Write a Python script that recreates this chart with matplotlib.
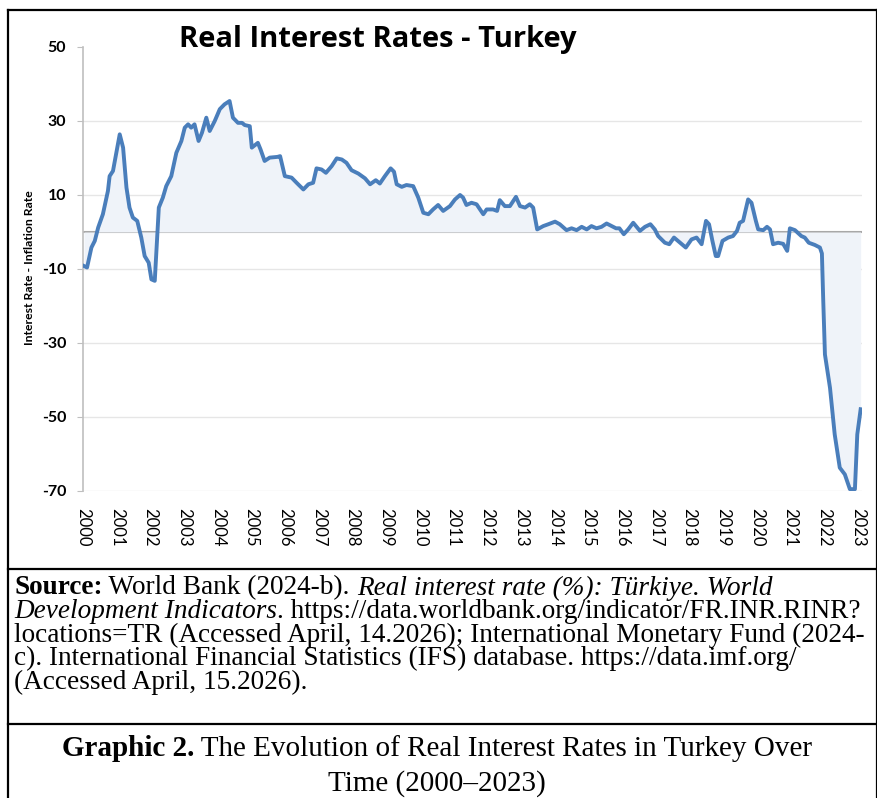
import matplotlib
matplotlib.use('Agg')
import matplotlib.pyplot as plt
from matplotlib.lines import Line2D

# Real interest rate (%).
years = [2000.03, 2000.12, 2000.25, 2000.35, 2000.45, 2000.59, 2000.74, 2000.79, 2000.89,
         2001.09, 2001.19, 2001.29, 2001.38, 2001.48, 2001.61, 2001.73, 2001.83, 2001.95,
         2002.03, 2002.13, 2002.25, 2002.37, 2002.47, 2002.62, 2002.77, 2002.92,
         2003.02, 2003.12, 2003.21, 2003.31, 2003.43, 2003.53, 2003.66, 2003.76, 2003.91,
         2004.06, 2004.20, 2004.35, 2004.45, 2004.60, 2004.72, 2004.80, 2004.95,
         2005.01, 2005.19, 2005.27, 2005.39, 2005.54, 2005.77, 2005.85, 2005.99,
         2006.19, 2006.34, 2006.54, 2006.69, 2006.83, 2006.93,
         2007.08, 2007.21, 2007.38, 2007.53, 2007.68, 2007.82, 2007.97,
         2008.17, 2008.37, 2008.52, 2008.69, 2008.81, 2008.96,
         2009.13, 2009.23, 2009.31, 2009.46, 2009.60, 2009.80, 2009.95,
         2010.10, 2010.25, 2010.39, 2010.54, 2010.69, 2010.89,
         2011.04, 2011.19, 2011.28, 2011.38, 2011.53, 2011.68, 2011.88, 2011.98,
         2012.17, 2012.29, 2012.37, 2012.52, 2012.67, 2012.85, 2012.97,
         2013.12, 2013.26, 2013.36, 2013.48, 2013.66, 2013.81,
         2014.01, 2014.15, 2014.35, 2014.50, 2014.65, 2014.80, 2014.95,
         2015.09, 2015.24, 2015.39, 2015.54, 2015.69, 2015.82, 2015.92,
         2016.05, 2016.18, 2016.33, 2016.53, 2016.68, 2016.84, 2016.97,
         2017.07, 2017.27, 2017.40, 2017.54, 2017.72, 2017.89,
         2018.06, 2018.21, 2018.36, 2018.49, 2018.58, 2018.68, 2018.78, 2018.85, 2018.98,
         2019.15, 2019.29, 2019.41, 2019.49, 2019.59, 2019.74, 2019.84, 2019.97,
         2020.04, 2020.19, 2020.30, 2020.39, 2020.48, 2020.63, 2020.78, 2020.90, 2020.98,
         2021.13, 2021.32, 2021.42, 2021.54, 2021.72, 2021.87, 2021.93, 2021.97,
         2022.02, 2022.17, 2022.31, 2022.46, 2022.61, 2022.76, 2022.91, 2022.98, 2023.08]
rates = [-9.2, -9.6, -4.2, -2.4, 1.2, 4.8, 11.1, 15.1, 16.5,
         26.4, 22.8, 12.0, 6.6, 3.9, 3.0, -1.5, -6.5, -8.3,
         -12.8, -13.2, 6.6, 9.3, 12.4, 15.1, 21.4, 24.6,
         28.2, 29.1, 28.2, 29.1, 24.6, 26.8, 30.9, 27.3, 30.0,
         33.2, 34.5, 35.4, 30.9, 29.5, 29.5, 28.9, 28.6,
         22.8, 24.1, 22.3, 19.2, 20.1, 20.3, 20.5, 15.1,
         14.7, 13.3, 11.5, 12.9, 13.3, 17.2,
         16.9, 16.0, 17.8, 19.9, 19.6, 18.7, 16.7,
         15.8, 14.5, 12.9, 14.0, 13.1, 15.1,
         17.2, 16.3, 12.9, 12.2, 12.7, 12.4, 9.3,
         5.2, 4.8, 6.1, 7.3, 5.7, 7.0,
         8.8, 10.0, 9.3, 7.3, 7.9, 7.5, 4.8, 6.1,
         6.1, 5.7, 8.6, 7.0, 7.0, 9.5, 7.0,
         6.6, 7.5, 6.6, 0.7, 1.6, 2.1,
         2.8, 2.1, 0.5, 1.0, 0.5, 1.4, 0.7,
         1.6, 1.0, 1.4, 2.3, 1.6, 1.0, 1.0,
         -0.6, 0.7, 2.5, 0.3, 1.4, 2.1, 0.7,
         -1.1, -2.9, -3.3, -1.5, -2.9, -4.2,
         -2.0, -1.5, -3.3, 3.0, 2.1, -2.4, -6.5, -6.5, -2.4,
         -1.5, -1.1, 0.3, 2.5, 3.0, 8.8, 7.9, 3.0,
         0.7, 0.5, 1.4, 0.7, -3.3, -2.9, -3.2, -5.1, 1.0,
         0.5, -1.1, -1.5, -2.9, -3.5, -4.2, -5.8, -18.6,
         -33.1, -42.1, -54.7, -63.7, -65.5, -69.5, -69.5, -54.7, -47.9]

year_ticks = list(range(2000, 2024))
rate_ticks = [50, 30, 10, -10, -30, -50, -70]

W, H = 878, 798
fig = plt.figure(figsize=(W / 100, H / 100), dpi=100)
ax = fig.add_axes([83 / W, 1 - 491 / H, (862 - 83) / W, (491 - 47) / H])

for v in rate_ticks[1:]:
    ax.axhline(v, color='#e6e6e6', lw=1, zorder=0)
ax.axhline(0, color='#a8a8a8', lw=1.5, zorder=1)

ax.fill_between(years, rates, 0, color='#eff3f9', lw=0, zorder=1)
ax.plot(years, rates, color='#4a7ebb', lw=2.8, zorder=3, solid_joinstyle='round')

ax.set_xlim(2000, 2023.12)
ax.set_ylim(-70, 50)
ax.set_yticks(rate_ticks)
ax.set_yticklabels([str(v) for v in rate_ticks], fontfamily='Lato', fontweight='bold', fontsize=11.5)
ax.set_xticks(year_ticks)
ax.set_xticklabels([str(y) for y in year_ticks], rotation=-90, fontfamily='Lato', fontsize=12)
ax.tick_params(axis='x', length=0, pad=12)
ax.tick_params(axis='y', length=4, color='#bfbfbf', pad=8)
for s in ['top', 'right', 'bottom']:
    ax.spines[s].set_visible(False)
ax.spines['left'].set_color('#bfbfbf')
ax.spines['left'].set_linewidth(1.2)

fig.text(378 / W, 1 - 40 / H, 'Real Interest Rates - Turkey', ha='center', va='center',
         fontfamily='Open Sans', fontweight='bold', fontsize=21)
fig.text(30 / W, 1 - 268 / H, 'Interest Rate - Inflation Rate', rotation=90, ha='center',
         va='center', fontfamily='Lato', fontweight='bold', fontsize=8.8)

# Frame lines
def hline(y, x0=8, x1=877):
    fig.add_artist(Line2D([x0 / W, x1 / W], [1 - y / H, 1 - y / H], color='black', lw=1.6))

def vline(x, y0=10, y1=798):
    fig.add_artist(Line2D([x / W, x / W], [1 - y0 / H, 1 - y1 / H], color='black', lw=1.6))

hline(10)
hline(569)
hline(724)
vline(8)
vline(877)

# Source note, drawn piece by piece so bold / italic parts can be mixed
renderer = fig.canvas.get_renderer()
serif = 'Liberation Serif'
src_size = 19.6

def rich_line(pieces, x, y):
    for text, weight, style in pieces:
        t = fig.text(x / W, 1 - y / H, text, ha='left', va='center', fontfamily=serif,
                     fontsize=src_size, fontweight=weight, fontstyle=style)
        x += t.get_window_extent(renderer).width

lines = [
    [('Source:', 'bold', 'normal'), (' World Bank (2024-b). ', 'normal', 'normal'),
     ('Real interest rate (%): Türkiye. World', 'normal', 'italic')],
    [('Development Indicators', 'normal', 'italic'),
     ('. https://data.worldbank.org/indicator/FR.INR.RINR?', 'normal', 'normal')],
    [('locations=TR (Accessed April, 14.2026); International Monetary Fund (2024-', 'normal', 'normal')],
    [('c). International Financial Statistics (IFS) database. https://data.imf.org/', 'normal', 'normal')],
    [('(Accessed April, 15.2026).', 'normal', 'normal')],
]
for i, pieces in enumerate(lines):
    rich_line(pieces, 14, 588 + i * 23.5)

# Caption
cap_size = 21
t1 = fig.text(0, 0, 'Graphic 2.', fontfamily=serif, fontweight='bold', fontsize=cap_size)
t2 = fig.text(0, 0, ' The Evolution of Real Interest Rates in Turkey Over', fontfamily=serif,
              fontsize=cap_size)
w1 = t1.get_window_extent(renderer).width
w2 = t2.get_window_extent(renderer).width
x0 = 437 - (w1 + w2) / 2
t1.set_position((x0 / W, 1 - 749 / H))
t1.set_va('center')
t2.set_position(((x0 + w1) / W, 1 - 749 / H))
t2.set_va('center')
fig.text(437 / W, 1 - 784 / H, 'Time (2000–2023)', ha='center', va='center',
         fontfamily=serif, fontsize=cap_size)

fig.savefig('out.png', dpi=100)
